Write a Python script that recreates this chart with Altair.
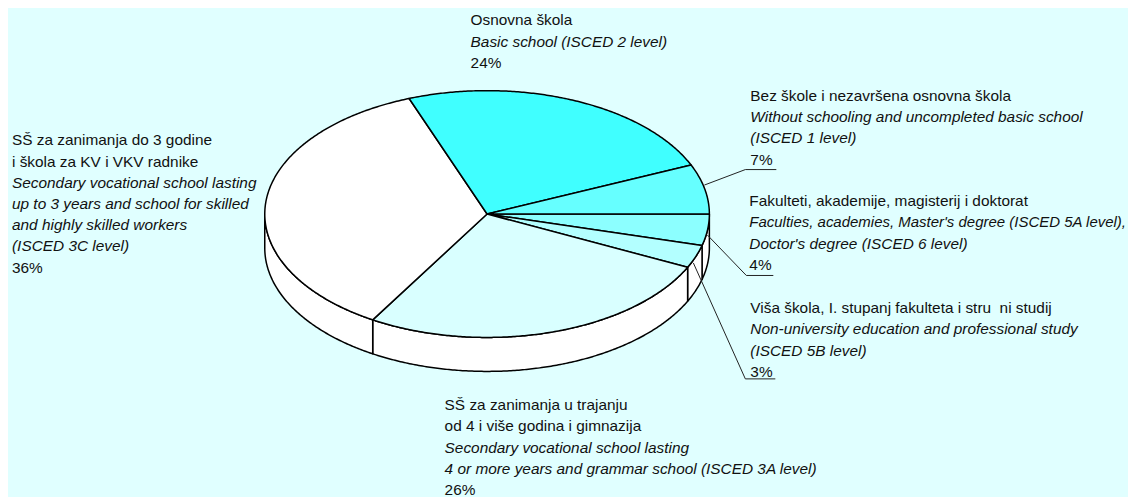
import numpy as np
import pandas as pd
import altair as alt

# shares of each slice, clockwise from the right-hand horizontal (per cent)
slice_names = ["Fakulteti", "Visa", "SS4", "SS3", "Osnovna", "Bez"]
slice_shares = [4.1, 3.0, 26.5, 35.7, 24.2, 6.5]
slice_colors = ["#8CFFFF", "#B3FFFF", "#D9FFFF", "#FFFFFF", "#40FFFF", "#66FFFF"]

labels = [
    (471, 25.2, ["Osnovna škola", "*Basic school (ISCED 2 level)", "24%"]),
    (751, 100.7, ["Bez škole i nezavršena osnovna škola",
                "*Without schooling and uncompleted basic school",
                "*(ISCED 1 level)", "7%"]),
    (750, 206.2, ["Fakulteti, akademije, magisterij i doktorat",
                "*Faculties, academies, Master's degree (ISCED 5A level),",
                "*Doctor's degree (ISCED 6 level)", "4%"]),
    (751, 313.2, ["Viša škola, I. stupanj fakulteta i stru\u00a0\u00a0ni studij",
                "*Non-university education and professional study",
                "*(ISCED 5B level)", "3%"]),
    (12, 145.2, ["SŠ za zanimanja do 3 godine", "i škola za KV i VKV radnike",
               "*Secondary vocational school lasting",
               "*up to 3 years and school for skilled",
               "*and highly skilled workers", "*(ISCED 3C level)", "36%"]),
    (445, 410.2, ["SŠ za zanimanja u trajanju", "od 4 i više godina i gimnazija",
                "*Secondary vocational school lasting",
                "*4 or more years and grammar school (ISCED 3A level)", "26%"]),
]
leaders = [
    [(705, 185), (746, 169.5), (777, 169.5)],
    [(708, 235), (747, 275.5), (774, 275.5)],
    [(694, 263), (746, 379), (776, 379)],
]

CX, CY, RX, RY, DEPTH = 487.5, 214, 222.5, 123.5, 34
LINE_H = 21.25
BG = "#E0FFFF"
FONT_SIZE = 15.4
LONG_LINE_SIZE = 15.0

xs = alt.X("x:Q", scale=alt.Scale(domain=[8, 1128], nice=False, zero=False), axis=None)
ys = alt.Y("y:Q", scale=alt.Scale(domain=[8, 497], nice=False, zero=False, reverse=True), axis=None)


def rim(a0, a1, dy=0.0):
    t = np.radians(np.linspace(a0, a1, max(3, int(abs(a1 - a0) * 2) + 1)))
    return list(zip(CX + RX * np.cos(t), CY + RY * np.sin(t) + dy))


def poly(points, fill, width=1.5):
    df = pd.DataFrame(points, columns=["x", "y"]).assign(i=lambda d: range(len(d)))
    return alt.Chart(df).mark_line(filled=True, fill=fill, stroke="black", strokeWidth=width,
                                   strokeJoin="round", clip=False).encode(x=xs, y=ys, order="i:Q")


edges = np.concatenate([[0], np.cumsum(slice_shares)]) * 3.6
layers = []
# side wall: only the front half of the disc shows
for a0, a1 in zip(edges[:-1], edges[1:]):
    lo, hi = max(a0, 0), min(a1, 180)
    if lo < hi:
        pts = rim(lo, hi) + rim(hi, lo, DEPTH)
        layers.append(poly(pts + pts[:1], "#FFFFFF"))
# top face
for a0, a1, c in zip(edges[:-1], edges[1:], slice_colors):
    pts = [(CX, CY)] + rim(a0, a1) + [(CX, CY)]
    layers.append(poly(pts, c))
# leader lines
for pts in leaders:
    df = pd.DataFrame(pts, columns=["x", "y"]).assign(i=lambda d: range(len(d)))
    layers.append(alt.Chart(df).mark_line(color="#222222", strokeWidth=1).encode(x=xs, y=ys, order="i:Q"))
# labels
rows = []
for x0, y0, lines in labels:
    for k, s in enumerate(lines):
        rows.append({"x": x0, "y": y0 + k * LINE_H, "t": s.lstrip("*"),
                     "st": "italic" if s[0] == "*" else "normal",
                     "fs": LONG_LINE_SIZE if s.startswith("*Faculties") else FONT_SIZE})
tdf = pd.DataFrame(rows)
for st in ["normal", "italic"]:
    layers.append(alt.Chart(tdf[tdf.st == st]).mark_text(
        align="left", baseline="alphabetic", font="Liberation Sans",
        fontStyle=st, color="#111111").encode(x=xs, y=ys, text="t:N", size=alt.Size("fs:Q", scale=None)))

chart = alt.layer(*layers).properties(
    width=1120, height=489, padding=0, background=BG
).configure_view(stroke=None)
chart.save("out.html", embed_options={"renderer": "svg", "actions": False})
